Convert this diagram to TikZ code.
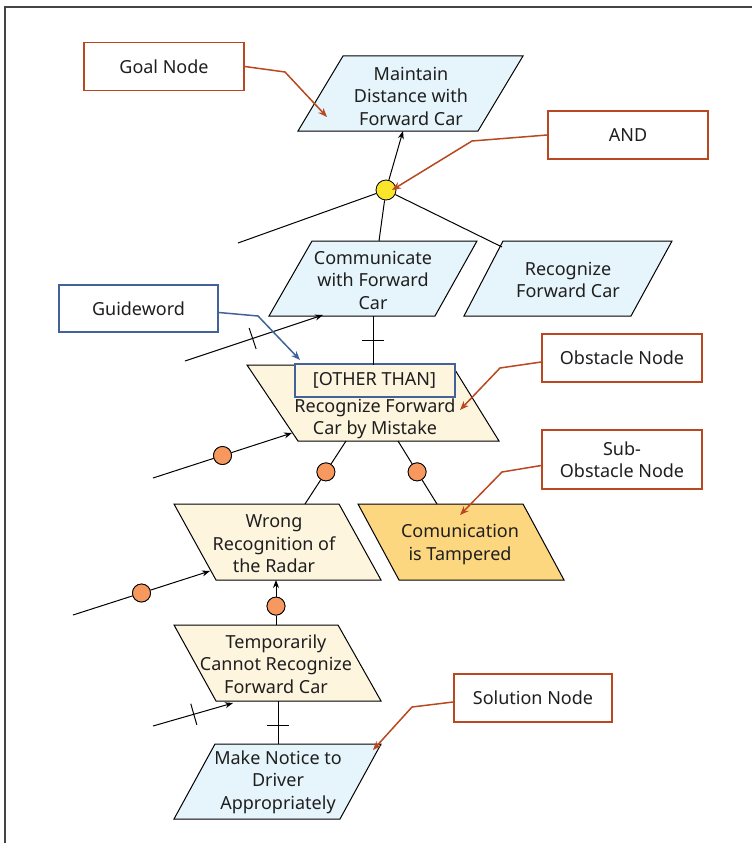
\documentclass[tikz,border=0pt]{standalone}
\usepackage{fontspec}
\setmainfont{Noto Sans}
\usetikzlibrary{arrows.meta,decorations.markings,calc}
\definecolor{goalblue}{HTML}{E6F5FB}
\definecolor{obscream}{HTML}{FEF5DF}
\definecolor{tampfill}{HTML}{FDD680}
\definecolor{dotorange}{HTML}{F7995E}
\definecolor{andyellow}{HTML}{F8E52C}
\definecolor{rust}{HTML}{B9471F}
\definecolor{gwblue}{HTML}{41639A}
\definecolor{framegray}{HTML}{444444}
\tikzset{
  shapebox/.style={draw=black, line width=1pt, line join=miter},
  txt/.style={align=center, inner sep=0pt, text=black!88},
  callout/.style={draw=rust, line width=1.6pt, minimum width=160pt, minimum height=48pt, inner sep=0pt, fill=white, align=center, text=black!88},
  callarrow/.style={draw=rust, line width=1.5pt, line join=round, -{Stealth[length=9pt,width=7pt]}},
  conn/.style={line width=1pt},
  arr/.style={conn, -{Stealth[length=8pt,width=6pt]}},
  ocirc/.style={circle, draw, fill=dotorange, minimum size=18pt, inner sep=0pt, line width=0.8pt},
  tickmark/.style={postaction=decorate, decoration={markings, mark=at position #1 with {\draw[line width=1pt, arrows=-] (0,-11pt) -- (0,11pt);}}}
}
\begin{document}
\begin{tikzpicture}[x=1pt,y=-1pt, font=\fontsize{18}{22.5}\selectfont]
\useasboundingbox (0,0) rectangle (752,843);
% frame
\draw[framegray, line width=2pt] (5,843) -- (5,7) -- (752,7);

% attachment coordinates
\coordinate (goalB) at (403,131);
\coordinate (commT) at (379,241);
\coordinate (recogT) at (502,247);
\coordinate (freeA) at (238,243);
\coordinate (commIn0) at (185,361);
\coordinate (commIn) at (323,315);
\coordinate (commB) at (373,316);
\coordinate (obsT) at (373,365);
\coordinate (obsIn0) at (153,478);
\coordinate (obsIn) at (292,433);
\coordinate (obsBL) at (346,441);
\coordinate (obsBR) at (398,441);
\coordinate (wrongT) at (305,504);
\coordinate (tampT) at (437,504);
\coordinate (wrongIn0) at (73,615);
\coordinate (wrongIn) at (210,571);
\coordinate (wrongB) at (276,580);
\coordinate (tempT) at (276,625);
\coordinate (tempIn0) at (153,726);
\coordinate (tempIn) at (233,703);
\coordinate (tempB) at (278,701);
\coordinate (solT) at (278,744);

% shapes
\draw[shapebox, fill=goalblue] (298,131) -- (478,131) -- (523,56) -- (343,56) -- cycle;
\node[txt] (goal) at (411,96) {Maintain\\Distance with\\Forward Car};
\draw[shapebox, fill=goalblue] (269,316) -- (435,316) -- (477,241) -- (312,241) -- cycle;
\node[txt] (comm) at (373,280) {Communicate\\with Forward\\Car};
\draw[shapebox, fill=goalblue] (464,316) -- (631,316) -- (672,241) -- (503,241) -- cycle;
\node[txt] (recog) at (568,280) {Recognize\\Forward Car};
\draw[shapebox, fill=obscream] (247,365) -- (452,365) -- (499,441) -- (298,441) -- cycle;
\node[draw=gwblue, line width=2pt, fill=obscream, minimum width=160pt, minimum height=33pt, inner sep=0pt, text=black!88] (gw) at (374.5,380.5) {[OTHER THAN]};
\node[txt] (obs) at (375,419) {Recognize Forward\\Car by Mistake};
\draw[shapebox, fill=obscream] (174,504) -- (339,504) -- (381,580) -- (216,580) -- cycle;
\node[txt] (wrong) at (274,544) {Wrong\\Recognition of\\the Radar};
\draw[shapebox, fill=tampfill] (358,504) -- (523,504) -- (564,580) -- (399,580) -- cycle;
\node[txt] (tamp) at (460,544.5) {Comunication\\is Tampered};
\draw[shapebox, fill=obscream] (174,625) -- (338,625) -- (381,701) -- (216,701) -- cycle;
\node[txt] (temp) at (276,664) {Temporarily\\Cannot Recognize\\Forward Car};
\draw[shapebox, fill=goalblue] (215,744) -- (381,744) -- (340,819) -- (174,819) -- cycle;
\node[txt] (sol) at (278,782) {Make Notice to\\Driver\\Appropriately};

% AND node and its links
\node[circle, draw, fill=andyellow, minimum size=20pt, inner sep=0pt, line width=0.8pt] (and) at (386,190) {};
\draw[arr] (and) -- (goalB);
\draw[conn] (and) -- (freeA);
\draw[conn] (and) -- (commT);
\draw[conn] (and) -- (recogT);

% other connectors
\draw[arr, tickmark=0.49] (commIn0) -- (commIn);
\draw[conn, tickmark=0.49] (commB) -- (obsT);
\path (obsIn0) -- (obsIn) node[pos=0.5, ocirc] (c1) {};
\draw[arr] (obsIn0) -- (c1) -- (obsIn);
\path (obsBL) -- (wrongT) node[pos=0.49, ocirc] (c2) {};
\draw[conn] (obsBL) -- (c2) -- (wrongT);
\path (obsBR) -- (tampT) node[pos=0.49, ocirc] (c3) {};
\draw[conn] (obsBR) -- (c3) -- (tampT);
\path (wrongIn0) -- (wrongIn) node[pos=0.5, ocirc] (c4) {};
\draw[arr] (wrongIn0) -- (c4) -- (wrongIn);
\path (tempT) -- (wrongB) node[pos=0.42, ocirc] (c5) {};
\draw[arr] (tempT) -- (c5) -- (wrongB);
\draw[arr, tickmark=0.51] (tempIn0) -- (tempIn);
\draw[conn, tickmark=0.58] (tempB) -- (solT);
\node[ocirc] at (c1) {};
\node[ocirc] at (c2) {};
\node[ocirc] at (c3) {};
\node[ocirc] at (c4) {};
\node[ocirc] at (c5) {};

% callouts
\node[callout] (goalcall) at (164,66.5) {Goal Node};
\node[callout] (andcall) at (628,135) {AND};
\node[callout, draw=gwblue, minimum width=159pt, minimum height=47pt] (gwcall) at (138.5,308.5) {Guideword};
\node[callout] (obscall) at (622,358) {Obstacle Node};
\node[callout, minimum height=59pt] (subcall) at (622,459.5) {Sub-\\Obstacle Node};
\node[callout, minimum width=158pt] (solcall) at (533,698) {Solution Node};

\draw[callarrow] (goalcall.east) -- (285,72) -- (327,117);
\draw[callarrow] (andcall.west) -- (472,141) -- (392,190);
\draw[callarrow, draw=gwblue] ($(gwcall.east)+(0,4)$) -- (258,316) -- (300,360);
\draw[callarrow] ($(obscall.west)+(0,4)$) -- (500,368) -- (460,410);
\draw[callarrow] ($(subcall.west)+(0,6)$) -- (502,472) -- (460,515);
\draw[callarrow] ($(solcall.west)+(0,4)$) -- (412,707) -- (373,750);
\end{tikzpicture}
\end{document}
